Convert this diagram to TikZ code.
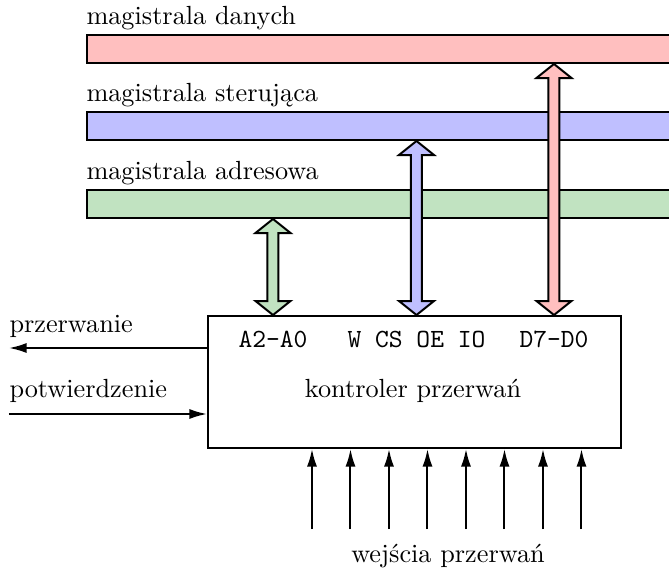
\documentclass[tikz,border=0pt]{standalone}
\usepackage{fontspec}
\usetikzlibrary{arrows.meta,calc}
\definecolor{busred}{RGB}{255,191,191}
\definecolor{busblue}{RGB}{191,191,255}
\definecolor{busgreen}{RGB}{193,227,193}
\newcommand\fatarrow[3]{%
  \draw[arrline, fill=#1] (#2) -- ++(17.5,14) -- ++(-12,0) -- ($(#3)+(5.5,-14)$)
    -- ++(12,0) -- (#3) -- ++(-17.5,-14) -- ++(12,0) -- ($(#2)+(-5.5,14)$)
    -- ++(-12,0) -- cycle;}
\begin{document}
\begin{tikzpicture}[x=0.4pt,y=-0.4pt,
  font=\fontsize{10.5pt}{12.5pt}\selectfont,
  busbox/.style={draw, line width=0.8pt, rectangle, anchor=north west,
    minimum width=241.6pt, minimum height=11.2pt, inner sep=0pt},
  arrline/.style={draw, line width=0.8pt, line join=miter},
  lbl/.style={anchor=base west, inner sep=0pt},
  pin/.style={anchor=base, inner sep=0pt, font=\fontsize{10.5pt}{12.5pt}\selectfont\ttfamily},
  sig/.style={line width=0.8pt, -{Latex[length=7pt,width=4pt]}}]
\useasboundingbox (0,0) rectangle (669,568);
% buses
\node[busbox, fill=busred]   (data) at (86,34) {};
\node[busbox, fill=busblue]  (ctrl) at (86,111) {};
\node[busbox, fill=busgreen] (addr) at (86,189) {};
\node[lbl] (ldata) at (86,24)  {magistrala danych};
\node[lbl] (lctrl) at (86,101) {magistrala sterująca};
\node[lbl] (laddr) at (86,179) {magistrala adresowa};
% controller
\node[draw, line width=0.8pt, anchor=north west, minimum width=165.2pt,
  minimum height=52.8pt, inner sep=0pt] (kp) at (207,315) {};
\node[pin] (pa) at (273,347) {A2-A0};
\node[pin] (pc) at (416.5,347) {W CS OE IO};
\node[pin] (pd) at (554,347) {D7-D0};
\node[anchor=base, inner sep=0pt] (kname) at (413,397) {kontroler przerwań};
% bus arrows
\fatarrow{busgreen}{pa |- addr.south}{pa |- kp.north}
\fatarrow{busblue}{pc |- ctrl.south}{pc |- kp.north}
\fatarrow{busred}{pd |- data.south}{pd |- kp.north}
% left signals
\coordinate (irqEnd) at (9,348);
\coordinate (ackStart) at (9,414);
\draw[sig] (kp.west |- irqEnd) -- (irqEnd);
\draw[sig] (ackStart) -- (kp.west |- ackStart);
\node[lbl] (lirq) at (9,332) {przerwanie};
\node[lbl] (lack) at (9,397) {potwierdzenie};
% inputs
\foreach \i in {0,...,7} {
  \coordinate (in\i) at ({312+38.5*\i},529);
  \draw[sig] (in\i) -- (in\i |- kp.south);
}
\node[anchor=base, inner sep=0pt] (lin) at (448,562) {wejścia przerwań};
\end{tikzpicture}
\end{document}
